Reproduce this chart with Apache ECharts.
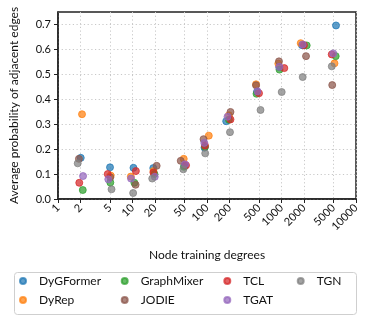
<!DOCTYPE html>
<html><head><meta charset="utf-8">
<script src="https://cdn.jsdelivr.net/npm/echarts@6/dist/echarts.min.js"></script>
<style>html,body{margin:0;padding:0;background:#fff}#c{width:377px;height:325px}</style>
</head><body><div id="c"></div>
<script>
const seriesNames = ['DyGFormer','DyRep','GraphMixer','JODIE','TCL','TGAT','TGN'];
const colors = ['#1f77b4','#ff7f0e','#2ca02c','#8c564b','#d62728','#9467bd','#7f7f7f'];
const xTicks = [1,2,5,10,20,50,100,200,500,1000,2000,5000,10000];
const yTicks = [0,0.1,0.2,0.3,0.4,0.5,0.6,0.7];

const DyGFormer = [[2.02,0.165],[4.99,0.127],[10.3,0.125],[19.0,0.124],[49.9,0.133],[92.6,0.206],[181,0.312],[469,0.43],[934,0.529],[1884,0.617],[5390,0.696]];
const DyRep = [[2.10,0.34],[5.10,0.094],[9.5,0.09],[19.1,0.112],[48.7,0.161],[105.7,0.254],[197,0.336],[455,0.46],[906,0.543],[1811,0.625],[5143,0.544]];
const GraphMixer = [[2.15,0.036],[5.04,0.066],[10.6,0.065],[19.7,0.1],[49.1,0.129],[94,0.209],[197,0.318],[462,0.422],[940,0.519],[2179,0.616],[5340,0.573]];
const JODIE = [[1.91,0.161],[5.04,0.087],[11.0,0.057],[21.1,0.133],[44.4,0.153],[89.8,0.24],[206.7,0.349],[455,0.456],[925,0.552],[2133,0.573],[4796,0.457]];
const TCL = [[1.93,0.065],[4.65,0.10],[11.1,0.112],[19.1,0.106],[52.3,0.135],[94,0.214],[206.7,0.319],[499,0.424],[1091,0.525],[2004,0.617],[4720,0.58]];
const TGAT = [[2.17,0.092],[4.73,0.079],[9.55,0.082],[19.9,0.089],[50.7,0.139],[92,0.225],[188.5,0.33],[476,0.432],[934,0.53],[1926,0.62],[4957,0.584]];
const TGN = [[1.84,0.143],[5.23,0.039],[10.2,0.024],[18.4,0.082],[48.1,0.119],[94.6,0.183],[203.5,0.268],[523,0.357],[1006,0.429],[1926,0.489],[4731,0.532]];
const allData = [DyGFormer, DyRep, GraphMixer, JODIE, TCL, TGAT, TGN];

const FONT = 'Lato';
const chart = echarts.init(document.getElementById('c'), null, {renderer:'canvas'});

const legendCols = [['DyGFormer','DyRep'],['GraphMixer','JODIE'],['TCL','TGAT'],['TGN']];
const legendLeft = [19, 120.7, 223.3, 296.7];
const legends = legendCols.map((names, i) => ({
  orient: 'vertical', left: legendLeft[i], top: 274,
  data: names, icon: 'circle', itemWidth: 22, itemHeight: 6, itemGap: 5,
  padding: 0,
  textStyle: {fontFamily: FONT, fontSize: 12, color: '#111', lineHeight: 14}
}));

chart.setOption({
  animation: false,
  textStyle: {fontFamily: FONT},
  grid: {left: 58, right: 21, top: 12, bottom: 126, show: true, borderColor: '#222', borderWidth: 1.5, backgroundColor: 'transparent'},
  graphic: [{type: 'rect', left: 12, top: 270, shape: {width: 342, height: 42, r: 3}, style: {fill: 'none', stroke: '#cfcfcf', lineWidth: 1}, silent: true}],
  legend: legends,
  xAxis: {
    type: 'log', logBase: 10, min: 1, max: 10000,
    name: 'Node training degrees', nameLocation: 'middle', nameGap: 50,
    nameTextStyle: {fontFamily: FONT, fontSize: 12, color: '#111'},
    axisLine: {show: true, lineStyle: {color: '#222', width: 1.5}},
    axisTick: {show: true, length: 4, inside: false, customValues: xTicks, lineStyle: {color: '#222', width: 1}},
    axisLabel: {customValues: xTicks, rotate: 45, margin: 7, fontFamily: FONT, fontSize: 11, color: '#111', formatter: v => String(v)},
    splitLine: {show: true, lineStyle: {color: '#c8c8c8', width: 1, type: [1.2, 2.5]}},
    minorTick: {show: false}, minorSplitLine: {show: false}
  },
  yAxis: {
    type: 'value', min: 0, max: 0.75,
    name: 'Average probability of adjacent edges', nameLocation: 'middle', nameGap: 38,
    nameTextStyle: {fontFamily: FONT, fontSize: 12, color: '#111'},
    axisLine: {show: true, lineStyle: {color: '#222', width: 1.5}},
    axisTick: {show: true, length: 4, inside: false, customValues: yTicks, lineStyle: {color: '#222', width: 1}},
    axisLabel: {customValues: yTicks, margin: 7, fontFamily: FONT, fontSize: 11, color: '#111', formatter: v => v.toFixed(1)},
    splitLine: {show: true, lineStyle: {color: '#c8c8c8', width: 1, type: [1.2, 2.5]}}
  },
  series: seriesNames.map((n, i) => ({
    name: n, type: 'scatter', data: allData[i], symbol: 'circle', symbolSize: 7,
    itemStyle: {color: colors[i], borderColor: colors[i], borderWidth: 1, opacity: 0.72},
    emphasis: {disabled: true}
  }))
});
</script></body></html>
